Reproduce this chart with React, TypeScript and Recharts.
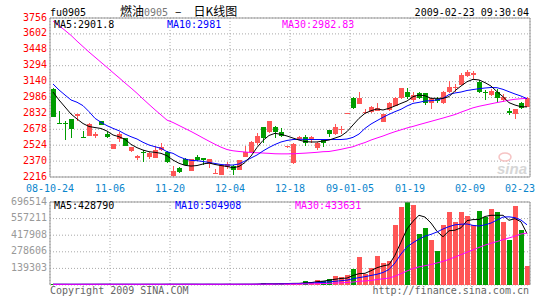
import React from "react";
import {
  ComposedChart,
  Bar,
  Line,
  XAxis,
  YAxis,
  CartesianGrid,
  ReferenceLine,
} from "recharts";

const MONO = "'DejaVu Sans Mono', 'Liberation Mono', monospace";
const CJK = "'Noto Sans CJK SC', sans-serif";
const RED = "#ff5656";
const GREEN = "#009c00";
const BLUE_TXT = "#0a85cc";
const FRAME = "#999999";
const GRID = "#a8a8a8";

// tick labels, one every 10 trading days
const dateLabels = ["08-10-24", "11-06", "11-20", "12-04", "12-18", "09-01-05", "01-19", "02-09", "02-23"];
const priceTicks = [2216, 2370, 2524, 2678, 2832, 2986, 3140, 3294, 3448, 3602, 3756];
const volumeTicks = [139303, 278606, 417908, 557211, 696514];

// daily candles (80 trading days)
const opens = [
  3068, 2738, 2740, 2775, 2810, 2606, 2616, 2610, 2758, 2629,
  2490, 2581, 2590, 2471, 2403, 2461, 2412, 2403, 2477, 2461,
  2226, 2300, 2387, 2274, 2406, 2397, 2339, 2245, 2235, 2316,
  2322, 2284, 2413, 2455, 2548, 2697, 2649, 2703, 2655, 2503,
  2350, 2581, 2600, 2581, 2494, 2574, 2671, 2632, 2675, 2828,
  2984, 2923, 2835, 2849, 2858, 2752, 2865, 2904, 2978, 3042,
  2962, 3026, 3026, 2936, 2968, 2929, 3036, 3075, 3107, 3197,
  3204, 3139, 3042, 3010, 3042, 2962, 2858, 2826, 2929, 2897,
];
const highs = [
  3075, 2855, 2758, 2780, 2824, 2664, 2738, 2655, 2762, 2650,
  2540, 2650, 2595, 2510, 2426, 2477, 2461, 2516, 2542, 2465,
  2322, 2316, 2403, 2390, 2426, 2400, 2390, 2290, 2335, 2364,
  2332, 2384, 2516, 2565, 2639, 2700, 2762, 2706, 2687, 2520,
  2545, 2610, 2623, 2613, 2552, 2578, 2675, 2729, 2713, 2838,
  2990, 3042, 2870, 2900, 2929, 2830, 2940, 2990, 3080, 3075,
  3042, 3035, 3030, 2985, 2990, 3046, 3146, 3117, 3223, 3252,
  3246, 3156, 3059, 3068, 3065, 3017, 2881, 2878, 2940, 2990,
];
const lows = [
  2795, 2726, 2574, 2597, 2758, 2596, 2612, 2590, 2715, 2598,
  2488, 2552, 2515, 2461, 2384, 2358, 2393, 2400, 2470, 2355,
  2216, 2258, 2329, 2271, 2371, 2332, 2306, 2242, 2232, 2290,
  2235, 2280, 2410, 2450, 2526, 2545, 2645, 2590, 2600, 2500,
  2345, 2578, 2516, 2548, 2477, 2509, 2600, 2623, 2632, 2826,
  2875, 2920, 2830, 2835, 2855, 2748, 2860, 2900, 2975, 2971,
  2945, 2975, 2913, 2874, 2936, 2926, 3030, 3042, 3104, 3181,
  3162, 3026, 2962, 3005, 2936, 2945, 2816, 2775, 2878, 2890,
];
const closes = [
  2800, 2728, 2725, 2684, 2822, 2598, 2726, 2635, 2720, 2606,
  2536, 2629, 2519, 2506, 2422, 2448, 2451, 2477, 2509, 2358,
  2274, 2267, 2332, 2387, 2377, 2381, 2387, 2250, 2332, 2342,
  2284, 2380, 2461, 2558, 2613, 2590, 2758, 2649, 2613, 2516,
  2540, 2606, 2548, 2600, 2548, 2548, 2632, 2703, 2684, 2836,
  2881, 2978, 2850, 2897, 2881, 2823, 2935, 2984, 3075, 2994,
  3010, 2978, 2936, 2978, 2952, 3042, 3091, 3091, 3204, 3230,
  3220, 3042, 3030, 3052, 2978, 2988, 2832, 2874, 2881, 2978,
];
const volumes = [
  6000, 4000, 7000, 5000, 6000, 8000, 5000, 6000, 7000, 5000,
  6000, 7000, 5000, 6000, 4000, 7000, 6000, 5000, 6000, 8000,
  7000, 5000, 6000, 7000, 5000, 6000, 8000, 4000, 6000, 7000,
  5000, 6000, 8000, 7000, 9000, 19000, 8000, 7000, 18000, 9000,
  14000, 9000, 33000, 22000, 42000, 33000, 50000, 75000, 67000, 80000,
  132000, 234000, 89000, 145000, 242000, 188000, 205000, 502000, 655000, 694000,
  669000, 426000, 477000, 376000, 284000, 502000, 610000, 529000, 613000, 579000,
  502000, 619000, 569000, 635000, 613000, 529000, 376000, 663000, 460000, 159000,
];

// moving averages
const ma5 = [
  3039, 2962, 2894, 2826, 2778, 2734, 2705, 2695, 2686, 2661,
  2623, 2606, 2581, 2532, 2500, 2477, 2461, 2455, 2445, 2422,
  2380, 2349, 2329, 2322, 2327, 2342, 2352, 2337, 2327, 2318,
  2305, 2318, 2356, 2419, 2502, 2570, 2618, 2639, 2629, 2613,
  2593, 2574, 2559, 2555, 2555, 2565, 2574, 2593, 2613, 2655,
  2720, 2784, 2833, 2858, 2875, 2865, 2881, 2904, 2929, 2952,
  2994, 3010, 3003, 2978, 2978, 2978, 2994, 3052, 3097, 3139,
  3162, 3156, 3130, 3097, 3042, 2994, 2936, 2913, 2897, 2895,
];
const ma10 = [
  3117, 3059, 3010, 2962, 2940, 2907, 2849, 2784, 2746, 2713,
  2687, 2664, 2632, 2606, 2584, 2552, 2526, 2509, 2494, 2461,
  2445, 2413, 2390, 2377, 2374, 2366, 2357, 2347, 2337, 2332,
  2332, 2342, 2371, 2400, 2429, 2468, 2502, 2531, 2555, 2570,
  2579, 2581, 2581, 2579, 2579, 2579, 2579, 2579, 2579, 2584,
  2600, 2632, 2687, 2729, 2762, 2794, 2823, 2849, 2872, 2904,
  2929, 2939, 2952, 2955, 2962, 2978, 3015, 3030, 3039, 3054,
  3063, 3071, 3078, 3083, 3081, 3065, 3042, 3020, 3000, 2975,
];
const ma30 = [
  3727, 3682, 3636, 3588, 3532, 3479, 3426, 3377, 3327, 3278,
  3227, 3178, 3127, 3078, 3027, 2972, 2919, 2867, 2817, 2767,
  2744, 2715, 2686, 2657, 2626, 2594, 2563, 2533, 2505, 2482,
  2470, 2463, 2458, 2453, 2451, 2448, 2445, 2441, 2440, 2440,
  2441, 2444, 2447, 2451, 2455, 2461, 2463, 2473, 2484, 2497,
  2509, 2531, 2550, 2574, 2594, 2613, 2635, 2655, 2673, 2691,
  2706, 2723, 2739, 2755, 2771, 2787, 2804, 2821, 2844, 2865,
  2886, 2901, 2913, 2925, 2937, 2948, 2960, 2969, 2974, 2978,
];
const volMa5 = [
  6000, 6000, 5800, 5600, 5600, 6000, 6000, 6000, 6200, 6200,
  5800, 6000, 6000, 5800, 5600, 5800, 6000, 5800, 5800, 6200,
  6400, 6200, 6400, 6400, 6200, 5800, 6400, 6000, 5800, 6400,
  6000, 6200, 6400, 6400, 7000, 9800, 10600, 10400, 12200, 12200,
  13600, 14000, 18000, 20000, 28000, 32000, 40000, 48000, 55000, 58000,
  80000, 95000, 98000, 120000, 145000, 160000, 170000, 250000, 360000, 470000,
  535000, 585000, 570000, 520000, 450000, 405000, 455000, 460000, 480000, 540000,
  549000, 549000, 575000, 585000, 585000, 585000, 543000, 557000, 530000, 432000,
];
const volMa10 = [
  6000, 6000, 6000, 5800, 5800, 5800, 5800, 5900, 6000, 6000,
  6000, 6000, 6000, 6000, 5800, 5800, 5900, 5900, 5900, 6000,
  6100, 6100, 6200, 6200, 6200, 6200, 6200, 6200, 6100, 6200,
  6100, 6200, 6300, 6300, 6600, 8000, 8500, 8500, 9500, 10000,
  11500, 12000, 14000, 16500, 19000, 22000, 26000, 31000, 36000, 41000,
  52000, 62000, 70000, 80000, 90000, 105000, 130000, 185000, 260000, 320000,
  355000, 385000, 410000, 425000, 445000, 470000, 490000, 505000, 510000, 512000,
  500000, 495000, 505000, 520000, 545000, 570000, 572000, 565000, 545000, 505000,
];
const volMa30 = [
  5500, 5500, 5600, 5600, 5700, 5700, 5800, 5800, 5900, 5900,
  6000, 6000, 6000, 6000, 6000, 6000, 6000, 6000, 6000, 6000,
  6000, 6000, 6000, 6000, 6000, 6100, 6100, 6100, 6200, 6200,
  6200, 6300, 6400, 6500, 6600, 7000, 7000, 7100, 7500, 7600,
  8000, 8200, 9200, 9800, 11000, 12000, 13500, 16000, 18500, 21000,
  25000, 31000, 34000, 38500, 46000, 52000, 58000, 74000, 95000, 118000,
  138000, 152000, 162000, 172000, 185000, 198000, 215000, 235000, 255000, 275000,
  295000, 315000, 335000, 350000, 365000, 380000, 395000, 410000, 428000, 436000,
];

const rows = opens.map((open, i) => ({
  x: i + 0.5,
  open,
  high: highs[i],
  low: lows[i],
  close: closes[i],
  vol: volumes[i],
  ma5: ma5[i],
  ma10: ma10[i],
  ma30: ma30[i],
  vma5: volMa5[i],
  vma10: volMa10[i],
  vma30: volMa30[i],
}));

const xTicks = dateLabels.map((_, i) => i * 10);
const xMax = xTicks[xTicks.length - 1];

function Candle(props: any) {
  const { x, y, width, height, payload } = props;
  if (x == null || y == null || !payload) return null;
  const { open, close, high, low } = payload;
  const color = close >= open ? RED : GREEN;
  const k = height / (high - low);
  const left = Math.floor(x + width / 2) - 2;
  const wx = left + 2.5;
  const top = Math.round(y + (high - Math.max(open, close)) * k);
  const bottom = Math.round(y + (high - Math.min(open, close)) * k);
  return (
    <g shapeRendering="crispEdges">
      <line x1={wx} x2={wx} y1={Math.round(y)} y2={Math.round(y + height)} stroke={color} />
      <rect x={left} y={top} width={5} height={Math.max(1, bottom - top)} fill={color} />
    </g>
  );
}

function VolBar(props: any) {
  const { x, y, width, height, payload } = props;
  if (x == null || y == null || !payload) return null;
  const color = payload.close >= payload.open ? RED : GREEN;
  const left = Math.floor(x + width / 2) - 2;
  const top = Math.round(y);
  const bottom = Math.round(y + height);
  return (
    <rect
      x={left}
      y={Math.min(top, bottom - 1)}
      width={5}
      height={Math.max(1, bottom - top)}
      fill={color}
      shapeRendering="crispEdges"
    />
  );
}

const DateTick = (p: any) => {
  const v = p.payload.value;
  const last = v === xMax;
  return (
    <text
      x={last ? p.x + 5 : p.x}
      y={p.y + 14.5}
      textAnchor={last ? "end" : "middle"}
      fill={BLUE_TXT}
      fontSize={10}
      fontFamily={MONO}
    >
      {dateLabels[v / 10]}
    </text>
  );
};

const PriceTick = (p: any) => (
  <text x={p.x} y={p.y + 2.5} textAnchor="end" fill="#ff0000" fontSize={10} fontFamily={MONO}>
    {p.payload.value}
  </text>
);

const VolTick = (p: any) => (
  <text x={p.x} y={p.y + 2.5} textAnchor="end" fill="#999999" fontSize={10} fontFamily={MONO}>
    {p.payload.value}
  </text>
);

const frame = { stroke: FRAME, strokeWidth: 1, ifOverflow: "extendDomain" as const };

export default function App() {
  return (
    <div
      style={{
        position: "absolute",
        left: 0,
        top: 0,
        width: 545,
        height: 300,
        background: "#fff",
        overflow: "hidden",
      }}
    >
      <div style={{ position: "absolute", left: 0, top: 0 }}>
        <ComposedChart
          width={545}
          height={200}
          data={rows}
          margin={{ top: 18, right: 15, bottom: 3, left: 0 }}
        >
          <CartesianGrid stroke={GRID} strokeDasharray="1 2" />
          <XAxis
            type="number"
            dataKey="x"
            domain={[0, xMax]}
            ticks={xTicks}
            interval={0}
            allowDataOverflow
            tick={DateTick}
            tickSize={0}
            tickMargin={0}
            tickLine={false}
            axisLine={false}
            height={20}
          />
          <YAxis
            type="number"
            domain={[priceTicks[0], priceTicks[priceTicks.length - 1]]}
            ticks={priceTicks}
            interval={0}
            allowDataOverflow
            tick={PriceTick}
            tickSize={0}
            tickMargin={3}
            tickLine={false}
            axisLine={false}
            width={50}
          />
          <Bar
            dataKey={(d: any) => [d.low, d.high]}
            shape={Candle}
            barSize={5}
            isAnimationActive={false}
          />
          <Line type="linear" dataKey="ma30" stroke="#ff00ff" strokeWidth={1} dot={false} activeDot={false} isAnimationActive={false} />
          <Line type="linear" dataKey="ma10" stroke="#0000ff" strokeWidth={1} dot={false} activeDot={false} isAnimationActive={false} />
          <Line type="linear" dataKey="ma5" stroke="#000000" strokeWidth={1} dot={false} activeDot={false} isAnimationActive={false} />
          <ReferenceLine x={0} {...frame} />
          <ReferenceLine x={xMax} {...frame} />
          <ReferenceLine y={priceTicks[0]} {...frame} />
          <ReferenceLine y={priceTicks[priceTicks.length - 1]} {...frame} />
        </ComposedChart>
      </div>

      <div style={{ position: "absolute", left: 0, top: 195 }}>
        <ComposedChart
          width={545}
          height={100}
          data={rows}
          margin={{ top: 7, right: 15, bottom: 10, left: 0 }}
        >
          <CartesianGrid stroke={GRID} strokeDasharray="1 2" />
          <XAxis
            type="number"
            dataKey="x"
            domain={[0, xMax]}
            ticks={xTicks}
            interval={0}
            allowDataOverflow
            hide
          />
          <YAxis
            type="number"
            domain={[0, volumeTicks[volumeTicks.length - 1]]}
            ticks={volumeTicks}
            interval={0}
            allowDataOverflow
            tick={VolTick}
            tickSize={0}
            tickMargin={3}
            tickLine={false}
            axisLine={false}
            width={50}
          />
          <Bar dataKey="vol" shape={VolBar} barSize={5} minPointSize={1} isAnimationActive={false} />
          <Line type="linear" dataKey="vma5" stroke="#000000" strokeWidth={1} dot={false} activeDot={false} isAnimationActive={false} />
          <Line type="linear" dataKey="vma10" stroke="#0000ff" strokeWidth={1} dot={false} activeDot={false} isAnimationActive={false} />
          <Line type="linear" dataKey="vma30" stroke="#ff00ff" strokeWidth={1} dot={false} activeDot={false} isAnimationActive={false} />
          <ReferenceLine x={0} {...frame} />
          <ReferenceLine x={xMax} {...frame} />
          <ReferenceLine y={volumeTicks[volumeTicks.length - 1]} {...frame} />
        </ComposedChart>
      </div>

      <svg
        width={545}
        height={300}
        style={{ position: "absolute", left: 0, top: 0, pointerEvents: "none" }}
      >
        <text x={50} y={16} fontFamily={MONO} fontSize={10} fill="#000">fu0905</text>
        <text x={120} y={16} fontFamily={CJK} fontSize={12} fill="#000">
          燃油
          <tspan fontFamily={MONO} fontSize={10} fill="#777">0905</tspan>
          <tspan dx={7}>–</tspan>
          <tspan dx={12}>日K线图</tspan>
        </text>
        <text x={529} y={16} textAnchor="end" fontFamily={MONO} fontSize={10} fill="#000">
          2009-02-23 09:30:04
        </text>

        <text x={54} y={27.5} fontFamily={MONO} fontSize={10} fill="#000">MA5:2901.8</text>
        <text x={167} y={27.5} fontFamily={MONO} fontSize={10} fill="#0000ff">MA10:2981</text>
        <text x={282} y={27.5} fontFamily={MONO} fontSize={10} fill="#ff00ff">MA30:2982.83</text>

        <text x={54} y={209} fontFamily={MONO} fontSize={10} fill="#000">MA5:428790</text>
        <text x={175} y={209} fontFamily={MONO} fontSize={10} fill="#0000ff">MA10:504908</text>
        <text x={295} y={209} fontFamily={MONO} fontSize={10} fill="#ff00ff">MA30:433631</text>

        <ellipse cx={505} cy={157} rx={6} ry={4} fill="none" stroke="#f6c4c4" strokeWidth={1.5} />
        <text
          x={512}
          y={174}
          textAnchor="middle"
          fontFamily="'Liberation Sans', Arial, sans-serif"
          fontSize={15}
          fontStyle="italic"
          fontWeight="bold"
          fill="#d6d6d6"
        >
          sina
        </text>

        <text x={50} y={294} fontFamily={MONO} fontSize={10} fill="#666">Copyright 2009 SINA.COM</text>
        <text x={529} y={294} textAnchor="end" fontFamily={MONO} fontSize={10} fill="#666">
          http://finance.sina.com.cn
        </text>
      </svg>
    </div>
  );
}
